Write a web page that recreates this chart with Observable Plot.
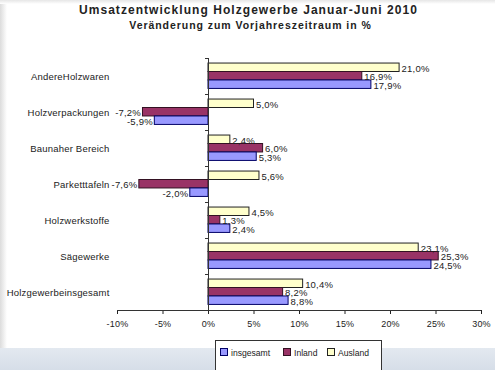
<!DOCTYPE html>
<html>
<head>
<meta charset="utf-8">
<script src="https://cdn.jsdelivr.net/npm/d3@7"></script>
<script src="https://cdn.jsdelivr.net/npm/@observablehq/plot@0.6"></script>
<style>
  html, body { margin: 0; padding: 0; background: #fff; }
  body { width: 495px; height: 370px; position: relative; overflow: hidden;
         font-family: "Liberation Sans", Arial, sans-serif; color: #222; }
  #leftstrip { position: absolute; left: 0; top: 0; width: 7px; height: 348px;
               background: linear-gradient(to right, #dcdcdc, #ffffff); }
  #topstrip { position: absolute; left: 0; top: 0; width: 495px; height: 4px;
              background: linear-gradient(to bottom, #e6e6e6, #ffffff); }
  #band { position: absolute; left: 0; top: 348px; width: 495px; height: 22px;
          background: linear-gradient(to bottom, #e3e9f0, #d6dee8); }
  #titles { position: relative; height: 38px; text-align: center; }
  #title { position: absolute; left: 0; right: 0; top: 3px; font-weight: bold;
           font-size: 12px; letter-spacing: 1.05px; padding-left: 2px; }
  #subtitle { position: absolute; left: 0; right: 0; top: 19px; font-weight: bold;
              font-size: 10.5px; letter-spacing: 0.95px; padding-left: 6px; }
  #chart { position: relative; }
  #legend { position: absolute; left: 215px; top: 340px; width: 165px; height: 34px;
            border: 1px solid #333; background: #fff; font-size: 8.6px; }
  .item { position: absolute; top: 7px; white-space: nowrap; }
  .sw { display: inline-block; width: 6px; height: 6px; border: 1px solid #333;
        margin-right: 3px; vertical-align: 0px; }
</style>
</head>
<body>
<div id="leftstrip"></div>
<div id="topstrip"></div>
<div id="band"></div>
<div id="titles">
  <div id="title">Umsatzentwicklung Holzgewerbe Januar-Juni 2010</div>
  <div id="subtitle">Veränderung zum Vorjahreszeitraum in %</div>
</div>
<div id="chart"></div>
<div id="legend"></div>
<script>
// ---- data ----
const categories = ["AndereHolzwaren", "Holzverpackungen", "Baunaher Bereich", "Parketttafeln", "Holzwerkstoffe", "Sägewerke", "Holzgewerbeinsgesamt"];
const series = ["Ausland", "Inland", "insgesamt"];
const ausland   = [21.0, 5.0, 2.4, 5.6, 4.5, 23.1, 10.4];
const inland    = [16.9, -7.2, 6.0, -7.6, 1.3, 25.3, 8.2];
const insgesamt = [17.9, -5.9, 5.3, -2.0, 2.4, 24.5, 8.8];
const xTicks = [-10, -5, 0, 5, 10, 15, 20, 25, 30];
const legendOrder = ["insgesamt", "Inland", "Ausland"];

const fills   = {Ausland: "#ffffcc", Inland: "#993366", insgesamt: "#9999ff"};
const strokes = {Ausland: "#222222", Inland: "#331122", insgesamt: "#000066"};

const valuesBySeries = {Ausland: ausland, Inland: inland, insgesamt: insgesamt};
const rows = [];
categories.forEach((c, i) => {
  series.forEach((s, j) => {
    const barH = 0.235, off = 0.14;
    rows.push({
      category: c, series: s, value: valuesBySeries[s][i], zero: 0,
      y1: i + off + j * barH, y2: i + off + (j + 1) * barH
    });
  });
});

const fmt = v => v.toFixed(1).replace(".", ",") + "%";
const labelOpts = {
  x: "value", y: d => (d.y1 + d.y2) / 2 + 0.03,
  text: d => fmt(d.value), fontSize: 9.5, fill: "#222"
};

const plot = Plot.plot({
  width: 495,
  height: 302,
  marginTop: 20,
  marginBottom: 30,
  marginLeft: 117,
  marginRight: 14,
  style: {fontFamily: "'Liberation Sans', Arial, sans-serif", fontSize: "9.5px", color: "#222", background: "transparent"},
  x: {domain: [-10, 30], label: null},
  y: {domain: [7, 0], label: null},
  marks: [
    Plot.rect(rows, {
      x1: "zero", x2: "value", y1: "y1", y2: "y2",
      fill: d => fills[d.series], stroke: d => strokes[d.series], strokeWidth: 1
    }),
    Plot.ruleX([0], {stroke: "#333"}),
    Plot.ruleY(d3.range(0, categories.length + 1), {x1: 0, x2: 0, insetLeft: -3, stroke: "#333"}),
    Plot.text(rows.filter(d => d.value >= 0), {...labelOpts, textAnchor: "start", dx: 2}),
    Plot.text(rows.filter(d => d.value < 0), {...labelOpts, textAnchor: "end", dx: -2}),
    Plot.axisY(categories.map((c, i) => i + 0.5), {
      anchor: "left", tickSize: 0, tickPadding: 8,
      tickFormat: d => categories[Math.floor(d)], fontSize: 9.5
    }),
    Plot.axisX(xTicks, {
      anchor: "bottom", tickSize: 4, tickPadding: 6,
      tickFormat: d => d + "%", fontSize: 9
    }),
    Plot.ruleY([7], {stroke: "#333"})
  ]
});
plot.querySelectorAll("text").forEach(t => t.style.letterSpacing = "0.2px");
document.getElementById("chart").appendChild(plot);

// legend
const lg = document.getElementById("legend");
const lefts = [4, 67, 111];
legendOrder.forEach((s, k) => {
  const it = document.createElement("span");
  it.className = "item";
  it.style.left = lefts[k] + "px";
  const sw = document.createElement("span");
  sw.className = "sw";
  sw.style.background = fills[s];
  sw.style.borderColor = strokes[s];
  it.appendChild(sw);
  it.appendChild(document.createTextNode(s));
  lg.appendChild(it);
});
</script>
</body>
</html>
